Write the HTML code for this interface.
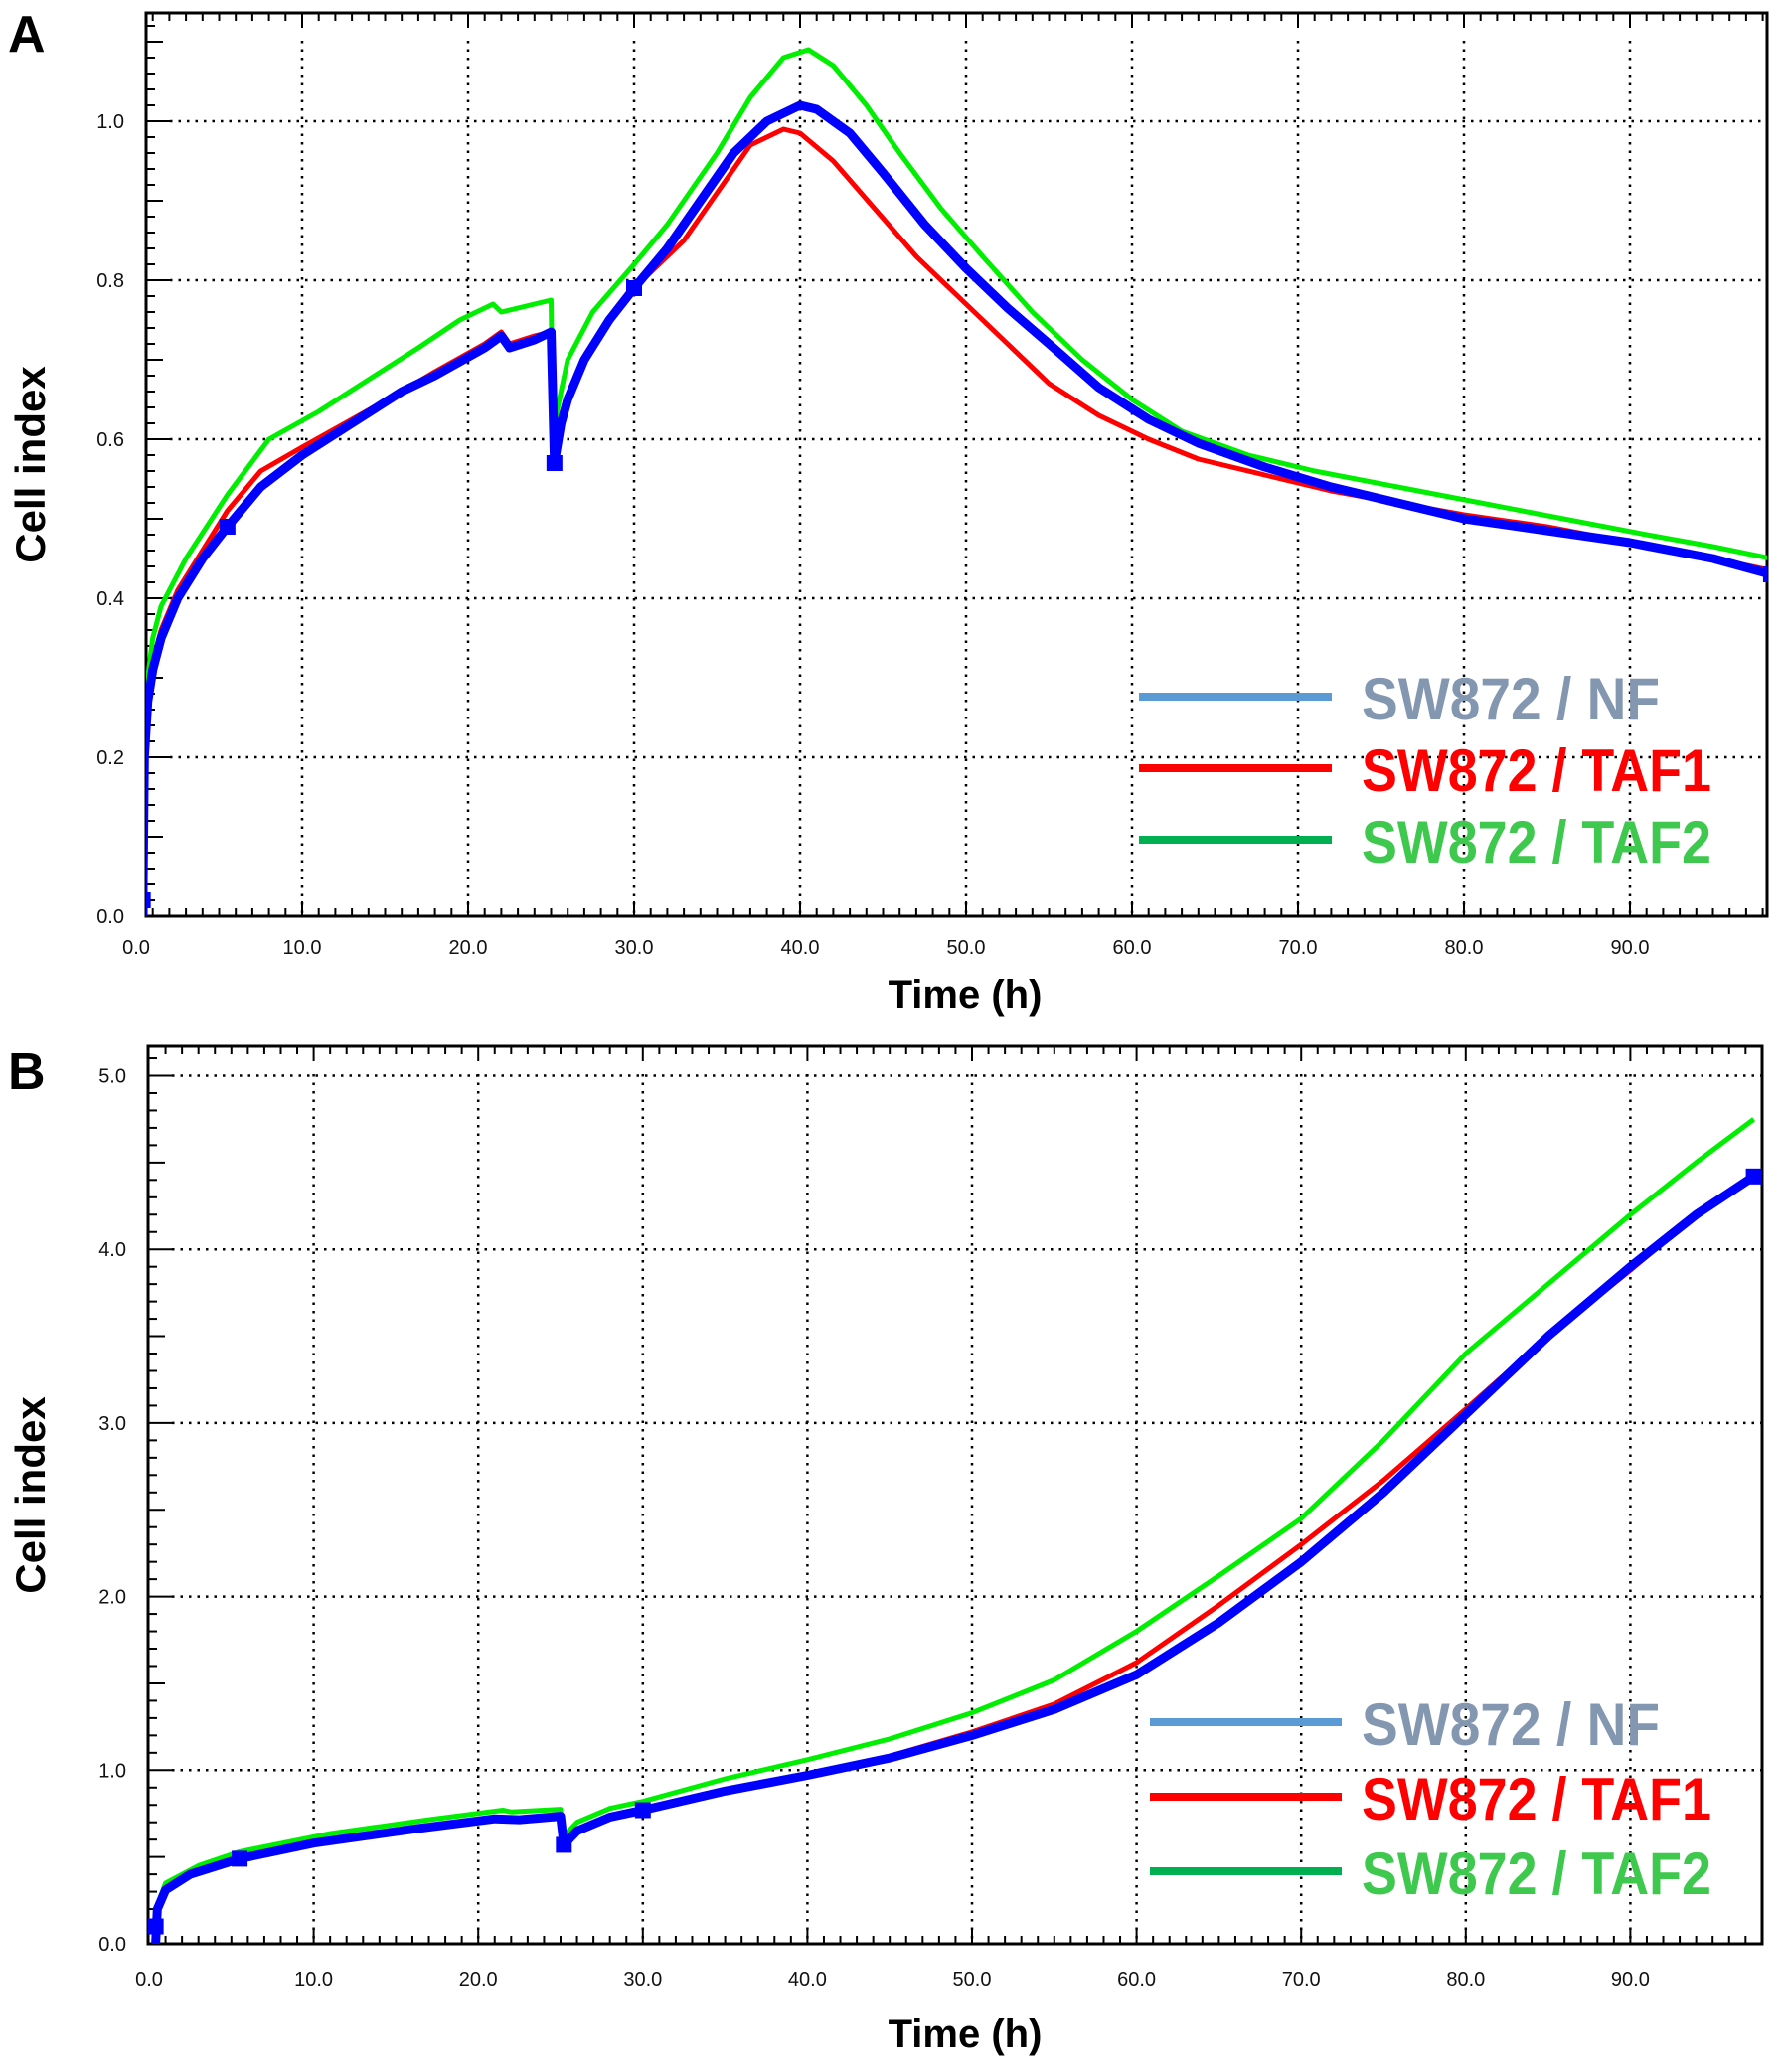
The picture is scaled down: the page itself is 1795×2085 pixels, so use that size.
<!DOCTYPE html>
<html><head><meta charset="utf-8"><style>
html,body{margin:0;padding:0;background:#fff;}
svg{display:block;}
text{font-family:"Liberation Sans",Arial,sans-serif;}
</style></head><body>
<svg id="fig" width="1795" height="2085" viewBox="0 0 1795 2085" xmlns="http://www.w3.org/2000/svg"></svg>
<script>
// ---- Panel A data ----
const aNF_t = [0.4,0.5,0.7,1,1.5,2.5,4,5.5,7.5,10,13,16,18,21,22,22.5,24,25,25.2,25.6,26,27,28.5,30,32,34,36,38,40,41,43,45,47.5,50,52.5,55,58,61,64,68,72,76,80,85,90,95,98.5];
const aNF_v = [0.0,0.2,0.27,0.31,0.35,0.4,0.45,0.49,0.54,0.58,0.62,0.66,0.68,0.715,0.73,0.715,0.725,0.735,0.57,0.62,0.65,0.7,0.75,0.79,0.84,0.9,0.96,1.0,1.02,1.015,0.985,0.935,0.87,0.815,0.765,0.72,0.665,0.625,0.595,0.565,0.54,0.52,0.5,0.485,0.47,0.45,0.43];
const aT1_t = [0.4,0.5,0.7,1,1.5,2.5,4,5.5,7.5,10,13,16,18,21,22,22.5,24,25,25.2,25.6,26,27,28.5,30,33,35.5,37,39,40,42,44.5,47,50,52.5,55,58,61,64,68,72,76,80,85,90,95,98.5];
const aT1_v = [0.0,0.21,0.28,0.32,0.36,0.41,0.46,0.51,0.56,0.59,0.625,0.66,0.685,0.72,0.735,0.72,0.73,0.735,0.575,0.62,0.655,0.7,0.75,0.79,0.85,0.925,0.97,0.99,0.985,0.95,0.89,0.83,0.77,0.72,0.67,0.63,0.6,0.575,0.555,0.535,0.52,0.505,0.49,0.47,0.45,0.435];
const aT2_t = [0.4,0.5,0.7,1,1.5,3,5.5,8,11,14,17,19.5,21.5,22,24,25,25.1,25.6,26,27.5,30,32,35,37,39,40.5,42,44,46,48.5,51,54,57,60,63,67,71,76,81,86,91,95,98.5];
const aT2_v = [0.0,0.22,0.3,0.35,0.39,0.45,0.53,0.6,0.635,0.675,0.715,0.75,0.77,0.76,0.77,0.775,0.61,0.66,0.7,0.76,0.82,0.87,0.96,1.03,1.08,1.09,1.07,1.02,0.96,0.89,0.83,0.76,0.7,0.65,0.61,0.58,0.56,0.54,0.52,0.5,0.48,0.465,0.45];
// ---- Panel B data ----
const bNF_t = [0.4,0.5,1,2.5,5.5,10,16,21,22.5,25,25.2,26,28,30,35,40,45,50,55,60,65,70,75,80,85,90,94,97.5];
const bNF_v = [0.0,0.2,0.31,0.4,0.49,0.58,0.66,0.72,0.715,0.735,0.57,0.65,0.73,0.77,0.88,0.97,1.07,1.2,1.35,1.55,1.85,2.2,2.6,3.05,3.5,3.9,4.2,4.42];
const bT1_t = [0.4,0.5,1,2.5,5.5,10,16,21,22.5,25,25.2,26,28,30,35,40,45,50,55,60,65,70,75,80,85,90,94,97.5];
const bT1_v = [0.0,0.21,0.32,0.41,0.51,0.59,0.66,0.72,0.72,0.735,0.575,0.655,0.73,0.78,0.88,0.97,1.08,1.22,1.38,1.62,1.95,2.3,2.67,3.08,3.5,3.88,4.2,4.42];
const bT2_t = [0.4,0.5,1,3,5.5,11,17,21.5,22,25,25.1,26,28,30,35,40,45,50,55,60,65,70,75,80,85,90,94,97.5];
const bT2_v = [0.0,0.22,0.35,0.45,0.53,0.635,0.715,0.77,0.76,0.775,0.61,0.7,0.78,0.82,0.95,1.06,1.18,1.33,1.52,1.8,2.12,2.45,2.9,3.4,3.8,4.2,4.5,4.75];
const xTicks = ["0.0","10.0","20.0","30.0","40.0","50.0","60.0","70.0","80.0","90.0"];
const aYTicks = ["0.0","0.2","0.4","0.6","0.8","1.0"];
const bYTicks = ["0.0","1.0","2.0","3.0","4.0","5.0"];
const legendLabels = ["SW872 / NF","SW872 / TAF1","SW872 / TAF2"];

const NS="http://www.w3.org/2000/svg";
const svg=document.getElementById('fig');
function mk(tag,attrs,parent){const e=document.createElementNS(NS,tag);for(const k in attrs)e.setAttribute(k,attrs[k]);(parent||svg).appendChild(e);return e;}

function panel(cfg){
  const g=mk('g',{});
  
  
  const X=t=>cfg.x0+cfg.xs*t, Y=v=>cfg.y0-cfg.ys*v;
  const L=cfg.left,R=cfg.right,T=cfg.top,B=cfg.y0;
  const clipId='clip'+cfg.name;
  const cp=mk('clipPath',{id:clipId},g); mk('rect',{x:L,y:T,width:R-L,height:B-T},cp);
  for(let i=1;i<xTicks.length;i++){const gl=mk('line',{x1:X(i*10),x2:X(i*10),y1:T+28,y2:B,stroke:'#000','stroke-width':2.5,'stroke-dasharray':'2.5,6'},g);
    
    }
  for(let i=1;i<cfg.yTicks.length;i++){const v=i*cfg.yStep;const gl=mk('line',{x1:L+24,x2:R,y1:Y(v),y2:Y(v),stroke:'#000','stroke-width':2.5,'stroke-dasharray':'2.5,6'},g);
    
    }
  for(let t=1;X(t)<R-2;t++){if(X(t)<L+2)continue;const len=(t%10===0)?15:8;
    mk('line',{x1:X(t),x2:X(t),y1:B,y2:B-len,stroke:'#000','stroke-width':2},g);
    mk('line',{x1:X(t),x2:X(t),y1:T,y2:T+len,stroke:'#000','stroke-width':2},g);}
  const n=Math.floor((B-T)/(cfg.ys*cfg.yMinor));
  for(let i=1;i<=n;i++){const v=i*cfg.yMinor;const m=Math.round(v/cfg.yMinor);
    let len=9; if(m%cfg.medEvery===0)len=17; if(m%cfg.majEvery===0)len=24;
    mk('line',{x1:L,x2:L+len,y1:Y(v),y2:Y(v),stroke:'#000','stroke-width':2},g);}
  const fr=mk('rect',{x:L,y:T,width:R-L,height:B-T,fill:'none',stroke:'#000','stroke-width':3},g);
  
  
  xTicks.forEach((s,i)=>{const tx=mk('text',{x:X(i*10),y:cfg.xLabY,'font-size':20,'text-anchor':'middle',fill:'#111'},g);tx.textContent=s;
    
    });
  cfg.yTicks.forEach((s,i)=>{const tx=mk('text',{x:L-22,y:Y(i*cfg.yStep)+7,'font-size':20,'text-anchor':'end',fill:'#111'},g);tx.textContent=s;
    
    });
  const xt=mk('text',{x:971,y:cfg.xTitleY,'font-size':40,'font-weight':'bold','text-anchor':'middle'},g);xt.textContent='Time (h)';
  
  
  const yt=mk('text',{x:0,y:0,'font-size':42,'font-weight':'bold','text-anchor':'middle',transform:`translate(45,${(T+B)/2}) rotate(-90)`},g);yt.textContent='Cell index';
  
  
  const pl=mk('text',{x:8,y:cfg.letterY,'font-size':52,'font-weight':'bold'},g);pl.textContent=cfg.letter;
  
  
  const sg=mk('g',{'clip-path':`url(#${clipId})`},g);
  const series=[[cfg.t1t,cfg.t1v,'#ff0000',5,'series-taf1'],[cfg.t2t,cfg.t2v,'#00ee00',5,'series-taf2'],[cfg.nft,cfg.nfv,'#0000ff',9,'series-nf']];
  series.forEach(([ts,vs,c,w,nm])=>{
    const d=ts.map((t,i)=>(i?'L':'M')+X(t).toFixed(1)+','+Y(vs[i]).toFixed(1)).join(' ');
    const p=mk('path',{d:d,fill:'none',stroke:c,'stroke-width':w,'stroke-linejoin':'round'},sg);
    
    
  });
  cfg.markers.forEach(i=>{const t=cfg.nft[i],v=Math.max(cfg.nfv[i],0.02*cfg.yStep*5);
    const r=mk('rect',{x:X(t)-8,y:Y(v)-8,width:16,height:16,fill:'#0000ff'},sg);
    
    });
  const lc=['#5b9bd5','#ff0000','#00b050'], tc=['#8497b0','#ff0000','#3ec84e'];
  legendLabels.forEach((s,i)=>{const y=cfg.legY+i*cfg.legDy;
    const ln=mk('line',{x1:cfg.legX1,x2:cfg.legX2,y1:y,y2:y,stroke:lc[i],'stroke-width':8},g);
    
    
    const tx=mk('text',{x:1370,y:y+23,'font-size':60,'font-weight':'bold',fill:tc[i],textLength:s.length>10?352:300,lengthAdjust:'spacingAndGlyphs'},g);
    tx.textContent=s;
    
    });
}
panel({name:'panel-a',letter:'A',letterY:52,x0:137,xs:16.7,y0:922,ys:800,left:147,right:1778,top:13,
  yTicks:aYTicks,yStep:0.2,yMinor:0.02,medEvery:5,majEvery:10,xLabY:960,xTitleY:1014,
  nft:aNF_t,nfv:aNF_v,t1t:aT1_t,t1v:aT1_v,t2t:aT2_t,t2v:aT2_v,markers:[0,7,18,23,46],
  legX1:1146,legX2:1340,legY:701,legDy:72});
panel({name:'panel-b',letter:'B',letterY:1096,x0:150,xs:16.56,y0:1956,ys:174.7,left:149,right:1773,top:1053,
  yTicks:bYTicks,yStep:1,yMinor:0.1,medEvery:5,majEvery:10,xLabY:1998,xTitleY:2060,
  nft:bNF_t,nfv:bNF_v,t1t:bT1_t,t1v:bT1_v,t2t:bT2_t,t2v:bT2_v,markers:[0,4,10,13,27],
  legX1:1157,legX2:1350,legY:1733,legDy:75});
</script>
</body></html>
